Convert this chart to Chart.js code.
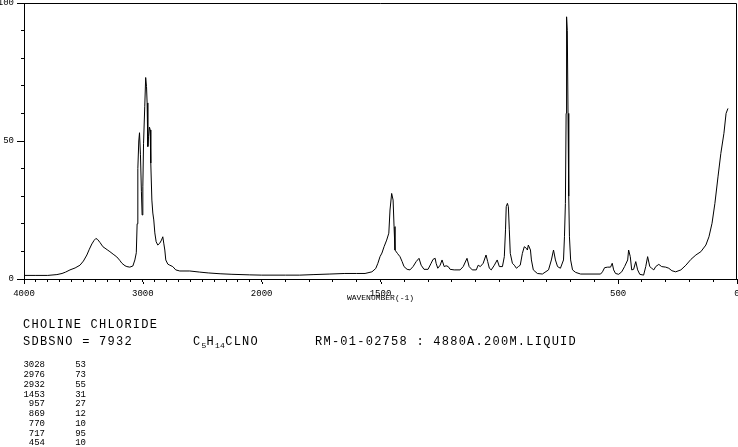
<!DOCTYPE html>
<html>
<head>
<meta charset="utf-8">
<title>Choline chloride - Raman</title>
<script src="https://cdn.jsdelivr.net/npm/chart.js@4.4.1/dist/chart.umd.min.js"></script>
<style>
  body { margin: 0; background: #fff; overflow: hidden; }
  #wrap { position: relative; width: 738px; height: 447px; }
  #grafico { position: absolute; left: 0; top: 0; }
  .txt { position: absolute; font-family: 'Liberation Mono', monospace; font-size: 12px; line-height: 12px; letter-spacing: 1.25px; color: #000; white-space: pre; }
  .txt sub { font-size: 8px; letter-spacing: 0.3px; vertical-align: -3px; line-height: 0; }
  .pico { position: absolute; font-family: 'Liberation Mono', monospace; font-size: 9px; line-height: 10px; color: #000; text-align: right; white-space: pre; }
</style>
</head>
<body>
<div id="wrap">
  <canvas id="grafico" width="738" height="447"></canvas>
  <div class="txt" style="left:23px; top:319px;">CHOLINE CHLORIDE</div>
  <div class="txt" style="left:23px; top:336px;">SDBSNO = 7932</div>
  <div class="txt" style="left:193px; top:336px;">C<sub>5</sub>H<sub>14</sub>CLNO</div>
  <div class="txt" style="left:315px; top:336px;">RM-01-02758 : 4880A.200M.LIQUID</div>
  <div id="picos"></div>
</div>
<script>
// Spectrum (wavenumber, intensity)
var numeroOnda = [
  4000, 3900, 3800, 3723, 3680, 3650, 3613, 3570, 3529, 3500, 3471, 3450, 3429, 3410, 3395, 3380,
  3360, 3336, 3300, 3277, 3250, 3219, 3195, 3176, 3150, 3134, 3110, 3084, 3067, 3055, 3048, 3042,
  3034, 3028, 3020, 3012, 3006, 3000, 2994, 2984, 2976, 2969, 2964, 2958, 2952, 2944, 2938, 2933,
  2924, 2916, 2908, 2899, 2888, 2874, 2857, 2843, 2832, 2824, 2815, 2807, 2790, 2773, 2748, 2723,
  2689, 2605, 2521, 2450, 2350, 2250, 2100, 2000,
  1900, 1840, 1780, 1713, 1650, 1600, 1565, 1536, 1520, 1511, 1502, 1494, 1485, 1474, 1465, 1460,
  1453, 1447, 1443, 1439, 1429, 1418, 1409, 1401, 1388, 1376, 1363, 1350, 1338, 1329, 1317, 1300,
  1287, 1279, 1270, 1266, 1259, 1249, 1241, 1232, 1224, 1215, 1207, 1190, 1165, 1152, 1136, 1127,
  1114, 1097, 1089, 1080, 1068, 1056, 1049, 1042, 1034, 1021, 1009, 1000, 987, 979, 974, 971,
  966, 962, 958, 954, 945, 937, 928, 920, 912, 903, 895, 886, 882, 878, 869, 865,
  857, 840, 819, 793, 781, 772, 764, 755, 743, 730, 726, 722, 719, 717, 714, 711,
  708, 705, 700, 692, 679, 658, 574, 566, 557, 544, 532, 525, 519, 511, 498, 485,
  473, 460, 456, 449, 443, 435, 426, 418, 409, 393, 384, 376, 367, 359, 350, 342,
  329, 317, 300, 287, 274, 258, 236, 215, 194, 173, 152, 131, 118, 105, 93, 80,
  68, 55, 46, 38
];
var intensidade = [
  1.3, 1.3, 1.3, 1.6, 2.0, 2.5, 3.3, 4.0, 5.0, 6.5, 8.7, 10.8, 12.7, 14.0, 14.7, 14.3,
  13.2, 11.7, 10.6, 9.9, 9.0, 8.0, 6.8, 5.7, 4.8, 4.5, 4.3, 4.7, 6.9, 9.5, 20, 40,
  50, 53, 45, 31.6, 23.2, 33.4, 49, 62.4, 73, 69.7, 63.8, 48, 51.6, 55, 54, 42,
  28.6, 23.9, 21.4, 16.7, 13.5, 12.3, 13, 14.1, 15.3, 13, 10.5, 6.9, 5.4, 5, 4.5, 3.3,
  2.9, 2.9, 2.5, 2.2, 1.9, 1.7, 1.5, 1.4,
  1.4, 1.4, 1.6, 1.8, 2.0, 2.0, 2.0, 2.6, 3.8, 5.7, 8.1, 9.4, 11.7, 14.1, 16.6, 25,
  31, 28.6, 19, 10.5, 9.3, 8.1, 6.3, 4.5, 3.5, 3.3, 4.5, 6.3, 7.5, 5, 3.5, 3.5,
  5.7, 7.1, 7.5, 5.7, 3.9, 5, 6.9, 4.5, 4.8, 4.5, 3.5, 3.3, 3.3, 4.5, 7.5, 4.5,
  3.3, 3.3, 5, 4.5, 5.7, 8.7, 6.3, 3.9, 3.3, 5, 6.9, 4.5, 4.5, 8.1, 17.8, 26.2,
  27.4, 26.2, 17.8, 9.3, 5.7, 5, 3.9, 4.5, 5, 9.3, 11.7, 11.1, 10.5, 12.3, 10.5, 6.9,
  3.3, 2, 1.8, 3.3, 6.9, 10.5, 6.9, 4.5, 3.9, 6.9, 15.3, 27.4, 60, 95, 90, 60,
  30, 15.3, 6.9, 3.3, 2.4, 1.8, 1.8, 2.6, 4.1, 4.3, 4.3, 5.7, 3.3, 2, 1.7, 2.6,
  4.5, 6.9, 10.5, 8.1, 3.3, 3.5, 6.3, 3.3, 1.7, 1.4, 4.5, 8.1, 4.5, 3.9, 3.3, 4.5,
  5.3, 4.5, 4.3, 3.9, 3.0, 2.6, 3.3, 5, 7.1, 8.7, 9.9, 12.3, 15.3, 20.2, 27.4, 37,
  45.5, 52.8, 60, 61.8
];

// Peak table printed under the chart
var picosNumero = [3028, 2976, 2932, 1453, 957, 869, 770, 717, 454];
var picosIntensidade = [53, 73, 55, 31, 27, 12, 10, 95, 10];

// Labelled ticks on the wavenumber axis (one tick every 100)
var rotulosX = [4000, 3000, 2000, 1500, 500, 0];
var rotulosY = [0, 50, 100];

// Axis is compressed 2x above 2000 cm-1
function posicao(w) {
  return w >= 2000 ? (4000 - w) / 2 : 1000 + (2000 - w);
}
function ondaDaPosicao(p) {
  return p <= 1000 ? 4000 - 2 * p : 3000 - p;
}

var ticksX = [];
for (var w = 4000; w >= 0; w -= 100) {
  ticksX.push(posicao(w));
}

var pontos = numeroOnda.map(function(w, i) {
  return { x: posicao(w), y: intensidade[i] };
});

// Top and right edges of the frame, plus longer ticks at the labelled values
var moldura = {
  id: 'moldura',
  afterDraw: function(chart) {
    var ctx = chart.ctx;
    var a = chart.chartArea;
    var sx = chart.scales.x;
    var sy = chart.scales.y;
    ctx.save();
    ctx.strokeStyle = '#000';
    ctx.lineWidth = 1;
    ctx.beginPath();
    ctx.moveTo(a.left, a.top + 0.5);
    ctx.lineTo(a.right - 0.5, a.top + 0.5);
    ctx.lineTo(a.right - 0.5, a.bottom);
    rotulosY.forEach(function(v) {
      var py = Math.round(sy.getPixelForValue(v)) + 0.5;
      ctx.moveTo(a.left - 7, py);
      ctx.lineTo(a.left - 3, py);
    });
    rotulosX.forEach(function(v) {
      var px = Math.round(sx.getPixelForValue(posicao(v))) + 0.5;
      ctx.moveTo(px, a.bottom + 3);
      ctx.lineTo(px, a.bottom + 5);
    });
    ctx.stroke();
    ctx.restore();
  }
};

var fonteEixo = { family: 'Liberation Mono', size: 9 };

var ctx = document.getElementById('grafico').getContext('2d');
var grafico = new Chart(ctx, {
  type: 'line',
  data: {
    datasets: [{
      data: pontos,
      borderColor: '#000',
      borderWidth: 1,
      pointRadius: 0,
      tension: 0,
      fill: false
    }]
  },
  options: {
    responsive: false,
    animation: false,
    devicePixelRatio: 1,
    layout: { padding: { top: 3, right: 1, left: 0, bottom: 144 } },
    plugins: {
      legend: { display: false },
      tooltip: { enabled: false }
    },
    scales: {
      x: {
        type: 'linear',
        min: 0,
        max: 3000,
        afterBuildTicks: function(scale) {
          scale.ticks = ticksX.map(function(v) { return { value: v }; });
        },
        afterFit: function(scale) {
          scale.height = 24;
          scale.paddingLeft = 0;
          scale.paddingRight = 0;
        },
        border: { display: true, color: '#000', width: 1 },
        grid: { drawOnChartArea: false, drawTicks: true, tickLength: 3, color: '#000' },
        ticks: {
          autoSkip: false,
          maxRotation: 0,
          padding: 6,
          color: '#000',
          font: fonteEixo,
          callback: function(value) {
            var w = Math.round(ondaDaPosicao(value));
            return rotulosX.indexOf(w) >= 0 ? String(w) : '';
          }
        },
        title: {
          display: true,
          text: 'WAVENUMBER(-1)',
          color: '#000',
          font: { family: 'Liberation Mono', size: 8 },
          padding: { top: 0, bottom: 0 }
        }
      },
      y: {
        min: 0,
        max: 100,
        afterFit: function(scale) {
          scale.width = 24;
          scale.paddingTop = 0;
          scale.paddingBottom = 0;
        },
        border: { display: true, color: '#000', width: 1 },
        grid: { drawOnChartArea: false, drawTicks: true, tickLength: 3, color: '#000' },
        ticks: {
          stepSize: 10,
          autoSkip: false,
          padding: 7,
          color: '#000',
          font: fonteEixo,
          callback: function(value) {
            return rotulosY.indexOf(value) >= 0 ? String(value) : '';
          }
        }
      }
    }
  },
  plugins: [moldura]
});

// Peak list below the text block
var lista = document.getElementById('picos');
var html = '';
for (var i = 0; i < picosNumero.length; i++) {
  var topo = 360.3 + i * 9.75;
  html += '<div class="pico" style="left:0px; width:45px; top:' + topo + 'px;">' + picosNumero[i] + '</div>';
  html += '<div class="pico" style="left:46px; width:40px; top:' + topo + 'px;">' + picosIntensidade[i] + '</div>';
}
lista.innerHTML = html;
</script>
</body>
</html>
